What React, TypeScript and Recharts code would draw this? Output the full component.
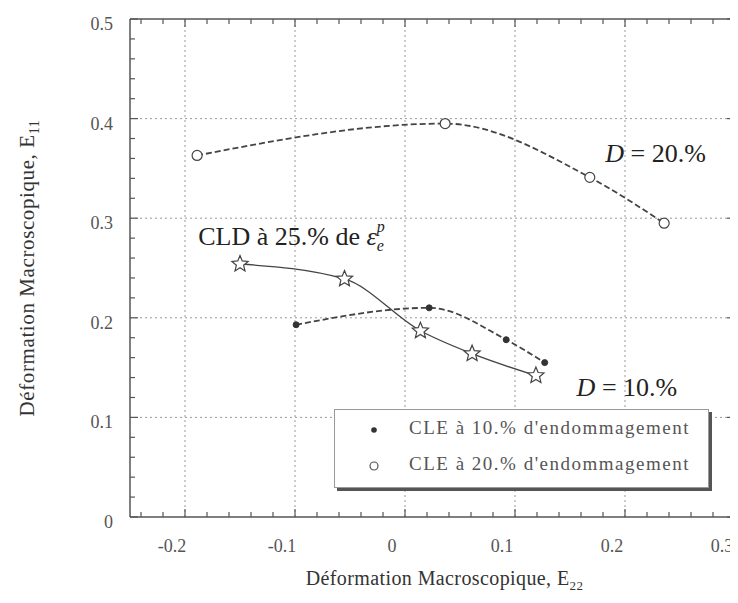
import React from 'react';
import { LineChart, Line, XAxis, YAxis, ReferenceLine, ReferenceDot, Legend } from 'recharts';

// ---- data ----
const d20X = [-0.189, 0.0365, 0.168, 0.2356];
const d20Y = [0.363, 0.395, 0.341, 0.295];
const d10X = [-0.099, 0.022, 0.092, 0.127];
const d10Y = [0.193, 0.21, 0.178, 0.155];
const cldX = [-0.15, -0.055, 0.014, 0.061, 0.119];
const cldY = [0.254, 0.239, 0.187, 0.164, 0.142];

const xMajor = [-0.2, -0.1, 0, 0.1, 0.2, 0.3];
const xMinor = [-0.24, -0.22, -0.18, -0.16, -0.14, -0.12, -0.08, -0.06, -0.04, -0.02, 0.02, 0.04, 0.06, 0.08, 0.12, 0.14, 0.16, 0.18, 0.22, 0.24, 0.26, 0.28];
const yMajor = [0, 0.1, 0.2, 0.3, 0.4, 0.5];
const yMinor = [0.02, 0.04, 0.06, 0.08, 0.12, 0.14, 0.16, 0.18, 0.22, 0.24, 0.26, 0.28, 0.32, 0.34, 0.36, 0.38, 0.42, 0.44, 0.46, 0.48];
const xGrid = [-0.2, -0.1, 0, 0.1, 0.2];
const yGrid = [0.1, 0.2, 0.3, 0.4];

const legendLabels = ["CLE à 10.% d'endommagement", "CLE à 20.% d'endommagement"];
const xTitle = ['Déformation Macroscopique, E', '22'];
const yTitle = ['Déformation Macroscopique, E', '11'];

const zip = (xs: number[], ys: number[]) => xs.map((x, i) => ({ x, y: ys[i] }));
const d20 = zip(d20X, d20Y);
const d10 = zip(d10X, d10Y);
const cld = zip(cldX, cldY);

const xTicks = [...xMajor, ...xMinor].sort((a, b) => a - b);
const yTicks = [...yMajor, ...yMinor].sort((a, b) => a - b);

const FONT = '"Liberation Serif", "DejaVu Serif", serif';
const AXIS = '#555';
const isMajor = (v: number, arr: number[]) => arr.some((m) => Math.abs(m - v) < 1e-6);
const fmt = (v: number) => (Math.abs(v) < 1e-9 ? '0' : String(Math.round(v * 10) / 10));

const BottomTick = (p: any) => {
  const v = p.payload.value;
  const major = isMajor(v, xMajor);
  return (
    <g>
      <line x1={p.x} y1={p.y} x2={p.x} y2={p.y - (major ? 8 : 5)} stroke={AXIS} strokeWidth={1.2} />
      {major && (
        <text x={p.x - 13} y={p.y + 35} textAnchor="middle" fontFamily={FONT} fontSize={18} fill="#555">
          {fmt(v)}
        </text>
      )}
    </g>
  );
};
const TopTick = (p: any) => {
  const major = isMajor(p.payload.value, xMajor);
  return <line x1={p.x} y1={p.y} x2={p.x} y2={p.y + (major ? 8 : 5)} stroke={AXIS} strokeWidth={1.2} />;
};
const LeftTick = (p: any) => {
  const v = p.payload.value;
  const major = isMajor(v, yMajor);
  return (
    <g>
      <line x1={p.x} y1={p.y} x2={p.x + (major ? 8 : 5)} y2={p.y} stroke={AXIS} strokeWidth={1.2} />
      {major && (
        <text x={p.x - 17} y={p.y + 11} textAnchor="end" fontFamily={FONT} fontSize={18} fill="#555">
          {fmt(v)}
        </text>
      )}
    </g>
  );
};
const RightTick = (p: any) => {
  const major = isMajor(p.payload.value, yMajor);
  return <line x1={p.x} y1={p.y} x2={p.x - (major ? 8 : 5)} y2={p.y} stroke={AXIS} strokeWidth={1.2} />;
};

const OpenCircle = (p: any) => (
  <circle key={`oc${p.index}`} cx={p.cx} cy={p.cy} r={5} fill="#fff" stroke="#444" strokeWidth={1.2} />
);
const FilledDot = (p: any) => (
  <circle key={`fd${p.index}`} cx={p.cx} cy={p.cy} r={3} fill="#333" stroke="#333" />
);
const Star = (p: any) => {
  const R = 8.5, r = 3.8;
  const pts: string[] = [];
  for (let i = 0; i < 10; i++) {
    const ang = -Math.PI / 2 + (i * Math.PI) / 5;
    const rad = i % 2 === 0 ? R : r;
    pts.push(`${p.cx + rad * Math.cos(ang)},${p.cy + rad * Math.sin(ang)}`);
  }
  return <polygon key={`st${p.index}`} points={pts.join(' ')} fill="#fff" stroke="#444" strokeWidth={1.2} />;
};

const XTitle = (props: any) => {
  const vb = props.viewBox;
  return (
    <text x={vb.x + vb.width / 2 + 12} y={vb.y + 68} textAnchor="middle" fontFamily={FONT} fontSize={20} letterSpacing={0.4} fill="#333">
      {xTitle[0]}
      <tspan fontSize={13} dy={5}>{xTitle[1]}</tspan>
    </text>
  );
};
const YTitle = (props: any) => {
  const vb = props.viewBox;
  const cy = vb.y + vb.height / 2;
  return (
    <text transform={`translate(26,${cy}) rotate(-90)`} textAnchor="middle" fontFamily={FONT} fontSize={21} letterSpacing={0.6} fill="#333">
      {yTitle[0]}
      <tspan fontSize={14} dy={5}>{yTitle[1]}</tspan>
    </text>
  );
};

const CldText = (p: any) => (
  <text x={p.cx} y={p.cy} fontFamily={FONT} fontSize={26} fill="#222">
    CLD à 25.% de <tspan fontStyle="italic">ε</tspan>
    <tspan fontStyle="italic" fontSize={16} dy={6}>e</tspan>
    <tspan fontStyle="italic" fontSize={16} dx={-7} dy={-19}>p</tspan>
  </text>
);
const D20Text = (p: any) => (
  <text x={p.cx} y={p.cy} fontFamily={FONT} fontSize={26} fill="#222">
    <tspan fontStyle="italic">D</tspan> = 20.%
  </text>
);
const D10Text = (p: any) => (
  <text x={p.cx} y={p.cy} fontFamily={FONT} fontSize={26} fill="#222">
    <tspan fontStyle="italic">D</tspan> = 10.%
  </text>
);

const LegendBox = () => (
  <div
    style={{
      width: 375,
      height: 79,
      boxSizing: 'border-box',
      border: '1px solid #999',
      background: '#fff',
      boxShadow: '3px 3px 0 #555',
      position: 'relative',
      fontFamily: FONT,
      fontSize: 19,
      letterSpacing: '1.5px',
      color: '#555',
    }}
  >
    <svg width={20} height={79} style={{ position: 'absolute', left: 29, top: 0 }}>
      <circle cx={10} cy={20} r={2.8} fill="#333" />
      <circle cx={10} cy={56} r={4} fill="#fff" stroke="#555" strokeWidth={1.2} />
    </svg>
    <div style={{ position: 'absolute', left: 74, top: 7, whiteSpace: 'nowrap' }}>{legendLabels[0]}</div>
    <div style={{ position: 'absolute', left: 74, top: 43, whiteSpace: 'nowrap' }}>{legendLabels[1]}</div>
  </div>
);

export default function App() {
  return (
    <LineChart width={730} height={595} margin={{ top: 10, right: 2, bottom: 6, left: 42 }}>
      <XAxis
        dataKey="x"
        type="number"
        domain={[-0.25, 0.3]}
        allowDataOverflow
        ticks={xTicks}
        interval={0}
        tickSize={0}
        tickMargin={0}
        tickLine={false}
        tick={BottomTick}
        axisLine={{ stroke: AXIS, strokeWidth: 1.5 }}
        height={80}
        label={<XTitle />}
      />
      <XAxis
        xAxisId="top"
        orientation="top"
        dataKey="x"
        type="number"
        domain={[-0.25, 0.3]}
        allowDataOverflow
        ticks={xTicks}
        interval={0}
        tickSize={0}
        tickMargin={0}
        tickLine={false}
        tick={TopTick}
        axisLine={{ stroke: AXIS, strokeWidth: 1.5 }}
        height={1}
      />
      <YAxis
        type="number"
        domain={[0, 0.5]}
        allowDataOverflow
        ticks={yTicks}
        interval={0}
        tickSize={0}
        tickMargin={0}
        tickLine={false}
        tick={LeftTick}
        axisLine={{ stroke: AXIS, strokeWidth: 1.5 }}
        width={80}
        label={<YTitle />}
      />
      <YAxis
        yAxisId="right"
        orientation="right"
        type="number"
        domain={[0, 0.5]}
        allowDataOverflow
        ticks={yTicks}
        interval={0}
        tickSize={0}
        tickMargin={0}
        tickLine={false}
        tick={RightTick}
        axisLine={{ stroke: AXIS, strokeWidth: 1.5 }}
        width={1}
      />
      {xGrid.map((v) => (
        <ReferenceLine key={`gx${v}`} x={v} stroke="#999" strokeDasharray="2 3" strokeWidth={1} />
      ))}
      {yGrid.map((v) => (
        <ReferenceLine key={`gy${v}`} y={v} stroke="#999" strokeDasharray="2 3" strokeWidth={1} />
      ))}
      <Line data={cld} dataKey="y" type="monotone" stroke="#444" strokeWidth={1.3} dot={Star} activeDot={false} isAnimationActive={false} legendType="none" />
      <Line data={d10} dataKey="y" type="monotone" stroke="#444" strokeWidth={1.8} strokeDasharray="6 3" dot={FilledDot} activeDot={false} isAnimationActive={false} />
      <Line data={d20} dataKey="y" type="monotone" stroke="#444" strokeWidth={1.8} strokeDasharray="6 3" dot={OpenCircle} activeDot={false} isAnimationActive={false} />
      <ReferenceDot x={-0.188} y={0.273} r={0} shape={CldText} />
      <ReferenceDot x={0.182} y={0.356} r={0} shape={D20Text} />
      <ReferenceDot x={0.156} y={0.121} r={0} shape={D10Text} />
      <Legend
        layout="vertical"
        align="center"
        verticalAlign="middle"
        wrapperStyle={{ left: 326, top: 401, width: 375, height: 79 }}
        content={<LegendBox />}
      />
    </LineChart>
  );
}
